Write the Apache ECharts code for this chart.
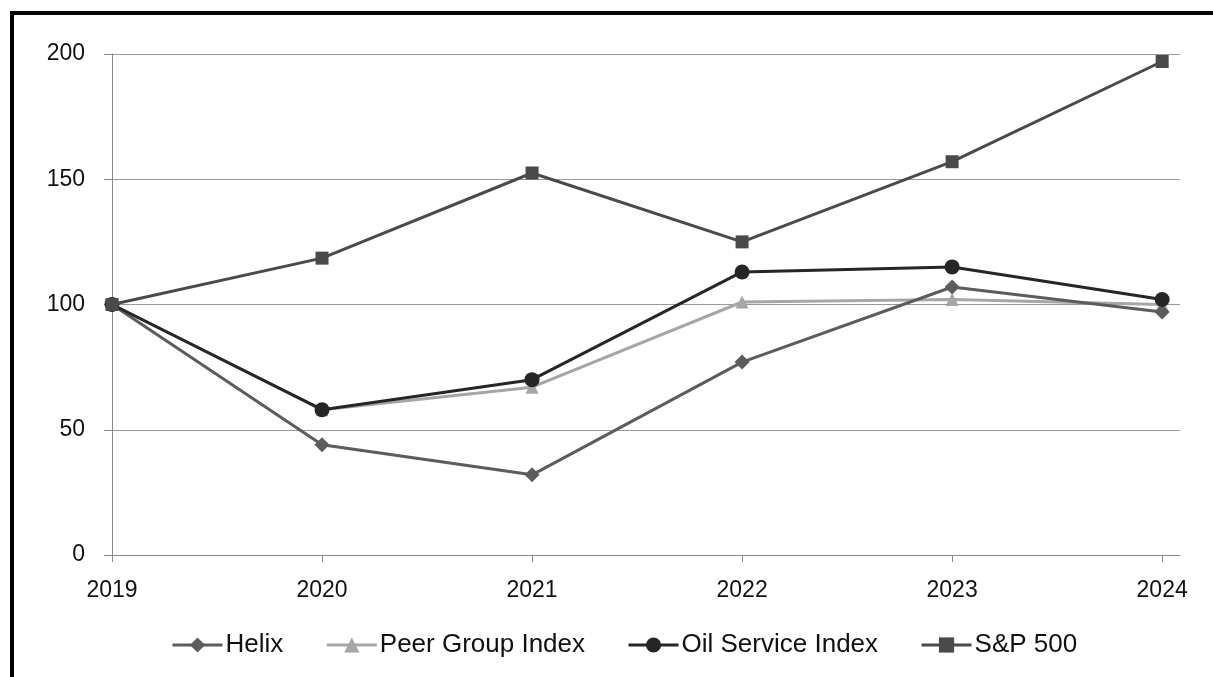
<!DOCTYPE html>
<html>
<head>
<meta charset="utf-8">
<script src="https://cdn.jsdelivr.net/npm/echarts@6/dist/echarts.min.js"></script>
<style>
html,body{margin:0;padding:0;background:#fff;}
#frame{position:absolute;left:10px;top:11px;width:1203px;height:666px;border-top:4px solid #000;border-left:4px solid #000;}
#chart{position:absolute;left:0;top:0;width:1213px;height:677px;}
</style>
</head>
<body>
<div id="frame"></div>
<div id="chart"></div>
<script>
const years = [2019, 2020, 2021, 2022, 2023, 2024];
const helix = [100, 44, 32, 77, 107, 97];
const peerGroup = [100, 58, 67, 101, 102, 100];
const oilService = [100, 58, 70, 113, 115, 102];
const sp500 = [100, 118.5, 152.5, 125, 157, 197];
const yTicks = [0, 50, 100, 150, 200];

const chart = echarts.init(document.getElementById('chart'));
function mk(name, vals, color, symbol, size, z) {
  return {
    name, type: 'line', data: years.map((y, i) => [y, vals[i]]), symbol, symbolSize: size, z,
    lineStyle: { color, width: 3 },
    itemStyle: { color },
    emphasis: { disabled: true }
  };
}
chart.setOption({
  animation: false,
  textStyle: { fontFamily: 'Liberation Sans, Arial, sans-serif' },
  grid: { left: 112, right: 33, top: 54, bottom: 122 },
  xAxis: {
    type: 'value', min: years[0], max: 2024.085, interval: 1,
    axisLine: { lineStyle: { color: '#888', width: 1 } },
    axisTick: { show: true, length: 7, lineStyle: { color: '#888' } },
    axisLabel: { color: '#111', fontSize: 23, margin: 24, showMaxLabel: false,
      formatter: v => (Number.isInteger(v) ? String(v) : '') },
    splitLine: { show: false }
  },
  yAxis: {
    type: 'value', min: yTicks[0], max: yTicks[yTicks.length - 1], interval: 50,
    axisLine: { show: true, lineStyle: { color: '#888', width: 1 } },
    axisTick: { show: true, length: 8, lineStyle: { color: '#888' } },
    axisLabel: { color: '#111', fontSize: 23, margin: 27 },
    splitLine: { lineStyle: { color: '#999', width: 1 } }
  },
  legend: {
    bottom: 14, left: 166, itemWidth: 50, itemHeight: 19, itemGap: 42,
    lineStyle: { width: 3 },
    textStyle: { color: '#111', fontSize: 26, padding: [0,0,0,-2] },
    data: ['Helix', 'Peer Group Index', 'Oil Service Index', 'S&P 500']
  },
  series: [
    mk('Helix', helix, '#5c5c5c', 'diamond', 15, 3),
    mk('Peer Group Index', peerGroup, '#a6a6a6', 'triangle', 13, 2),
    mk('Oil Service Index', oilService, '#262626', 'circle', 15, 4),
    mk('S&P 500', sp500, '#4a4a4a', 'rect', 13, 5)
  ]
});
</script>
</body>
</html>
